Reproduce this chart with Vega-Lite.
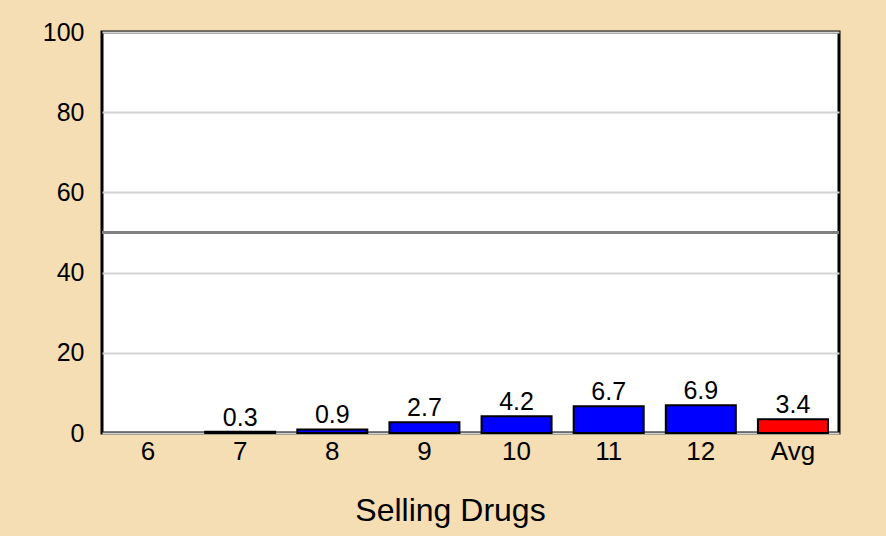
{
  "$schema": "https://vega.github.io/schema/vega-lite/v6.json",
  "width": 737,
  "height": 401,
  "autosize": {"type": "none"},
  "padding": {"left": 102, "top": 32, "right": 47, "bottom": 103},
  "background": "#F5DEB3",
  "config": {
    "font": "Liberation Sans",
    "view": {"fill": "white", "stroke": "black", "strokeWidth": 3},
    "axis": {"labelColor": "black", "titleColor": "black", "labelFont": "Liberation Sans", "titleFont": "Liberation Sans"}
  },
  "data": {
    "values": [
      {"grade": "6", "pct": null, "kind": "grade"},
      {"grade": "7", "pct": 0.3, "kind": "grade"},
      {"grade": "8", "pct": 0.9, "kind": "grade"},
      {"grade": "9", "pct": 2.7, "kind": "grade"},
      {"grade": "10", "pct": 4.2, "kind": "grade"},
      {"grade": "11", "pct": 6.7, "kind": "grade"},
      {"grade": "12", "pct": 6.9, "kind": "grade"},
      {"grade": "Avg", "pct": 3.4, "kind": "avg"}
    ]
  },
  "encoding": {
    "x": {
      "field": "grade",
      "type": "nominal",
      "sort": null,
      "scale": {"domain": ["6", "7", "8", "9", "10", "11", "12", "Avg"], "paddingInner": 0.24, "paddingOuter": 0.12},
      "axis": {"title": "Selling Drugs", "labelAngle": 0, "labelFontSize": 26, "titleFontSize": 32, "titleFontWeight": "normal", "ticks": false, "domain": false, "labelPadding": 5, "titlePadding": 31, "titleX": 348, "titleAlign": "center", "titleAnchor": null}
    }
  },
  "layer": [
    {
      "mark": {"type": "bar", "stroke": "black", "strokeWidth": 2},
      "encoding": {
        "y": {
          "field": "pct",
          "type": "quantitative",
          "scale": {"domain": [0, 100], "nice": false},
          "axis": {"title": null, "values": [0, 20, 40, 60, 80, 100], "grid": true, "gridColor": "#d3d3d3", "gridWidth": 2, "domain": false, "ticks": false, "labelFontSize": 25, "labelPadding": 18}
        },
        "fill": {
          "field": "kind",
          "type": "nominal",
          "scale": {"domain": ["grade", "avg"], "range": ["#0000FF", "#FF0000"]},
          "legend": null
        }
      }
    },
    {
      "mark": {"type": "rule", "color": "#808080", "strokeWidth": 2},
      "encoding": {"y": {"datum": 50, "type": "quantitative"}, "x": null}
    },
    {
      "mark": {"type": "text", "fontSize": 25, "baseline": "alphabetic", "dy": -6, "color": "black"},
      "encoding": {
        "y": {"field": "pct", "type": "quantitative"},
        "text": {"field": "pct", "type": "quantitative", "format": ".1f"}
      }
    }
  ]
}
